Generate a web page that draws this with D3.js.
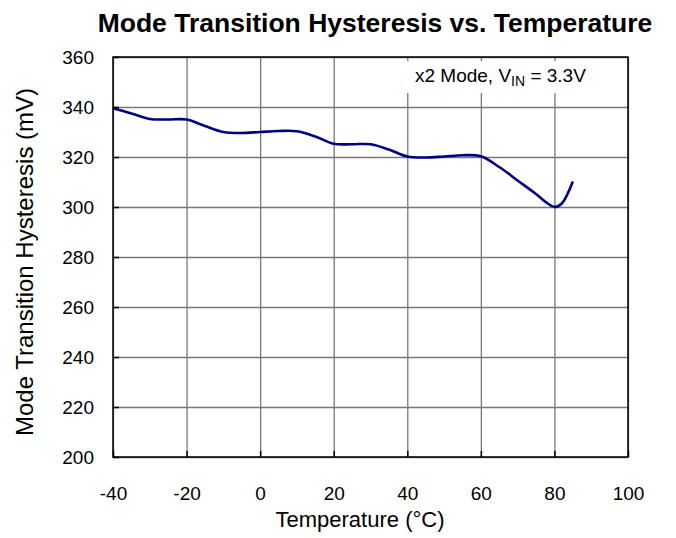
<!DOCTYPE html>
<html>
<head>
<meta charset="utf-8">
<script src="https://cdn.jsdelivr.net/npm/d3@7"></script>
<style>
  body { margin: 0; background: #fff; }
  svg text { font-family: "Liberation Sans", Arial, sans-serif; fill: #000; }
  .grid line { stroke: #777; stroke-width: 1.3; }
  .grid path { display: none; }
  .axis path { display: none; }
  .axis line { stroke: #000; stroke-width: 1.5; }
  .axis text { font-size: 19px; }
</style>
</head>
<body>
<div id="chart"></div>
<script>
// DATA
var temps = [-40, -35, -30, -25, -20, -15, -10, -5, 0, 5, 10, 15, 20, 25, 30, 35, 40, 45, 50, 55, 60, 65, 70, 75, 78, 80, 82, 85];
var hyst  = [339.5, 337.4, 335.2, 335.0, 335.0, 332.4, 330.0, 329.6, 330.0, 330.4, 330.3, 328.2, 325.3, 325.1, 325.1, 323.0, 320.2, 319.8, 320.2, 320.7, 320.3, 316.0, 310.6, 305.2, 301.6, 300.0, 301.4, 310.2];
var xTicks = [-40, -20, 0, 20, 40, 60, 80, 100];
var yTicks = [200, 220, 240, 260, 280, 300, 320, 340, 360];

var margin = { top: 57, right: 48, bottom: 81, left: 113 };
var width = 676 - margin.left - margin.right;
var height = 538 - margin.top - margin.bottom;

var svg = d3.select('#chart')
  .append('svg')
  .attr('width', 676)
  .attr('height', 538);

var g = svg.append('g')
  .attr('transform', 'translate(' + margin.left + ',' + margin.top + ')');

//SCALES
var x = d3.scaleLinear().domain([-40, 100]).range([0, width]);
var y = d3.scaleLinear().domain([200, 360]).range([height, 0]);

// gridlines
g.append('g')
  .attr('class', 'grid')
  .attr('transform', 'translate(0,' + height + ')')
  .call(d3.axisBottom(x).tickValues(xTicks).tickSize(-height).tickFormat(''));

g.append('g')
  .attr('class', 'grid')
  .call(d3.axisLeft(y).tickValues(yTicks).tickSize(-width).tickFormat(''));

//LEGEND box (white, covers grid)
var legend = g.append('g');
legend.append('rect')
  .attr('x', x(-40) + 290)
  .attr('y', 4)
  .attr('width', width - 293)
  .attr('height', 32)
  .attr('fill', '#fff');

var lt = legend.append('text')
  .attr('x', x(-40) + 302)
  .attr('y', 25)
  .style('font-size', '19px');
lt.append('tspan').text('x2 Mode, V');
lt.append('tspan').attr('dy', 4).style('font-size', '14px').text('IN');
lt.append('tspan').attr('dy', -4).text(' = 3.3V');

// LINE
var line = d3.line()
  .x(function(d, i) { return x(temps[i]); })
  .y(function(d) { return y(d); })
  .curve(d3.curveCatmullRom.alpha(0.5));

g.append('path')
  .datum(hyst)
  .attr('d', line)
  .attr('fill', 'none')
  .attr('stroke', '#000080')
  .attr('stroke-width', 2.6);

//AXES (ticks inside)
g.append('g')
  .attr('class', 'axis axis--x')
  .attr('transform', 'translate(0,' + height + ')')
  .call(d3.axisBottom(x).tickValues(xTicks).tickSize(-6).tickPadding(30)
    .tickFormat(function(d) { return String(d); }));

g.append('g')
  .attr('class', 'axis axis--y')
  .call(d3.axisLeft(y).tickValues(yTicks).tickSize(-6).tickPadding(19)
    .tickFormat(function(d) { return String(d); }));

// frame
g.append('rect')
  .attr('width', width)
  .attr('height', height)
  .attr('fill', 'none')
  .attr('stroke', '#000')
  .attr('stroke-width', 1.5);

// TITLES
svg.append('text')
  .attr('x', 375)
  .attr('y', 32)
  .attr('text-anchor', 'middle')
  .style('font-size', '26.5px')
  .style('font-weight', 'bold')
  .text('Mode Transition Hysteresis vs. Temperature');

svg.append('text')
  .attr('x', 360)
  .attr('y', 527)
  .attr('text-anchor', 'middle')
  .style('font-size', '22px')
  .text('Temperature (\u00B0C)');

svg.append('text')
  .attr('transform', 'translate(33,262) rotate(-90)')
  .attr('text-anchor', 'middle')
  .style('font-size', '24px')
  .text('Mode Transition Hysteresis (mV)');
</script>
</body>
</html>
